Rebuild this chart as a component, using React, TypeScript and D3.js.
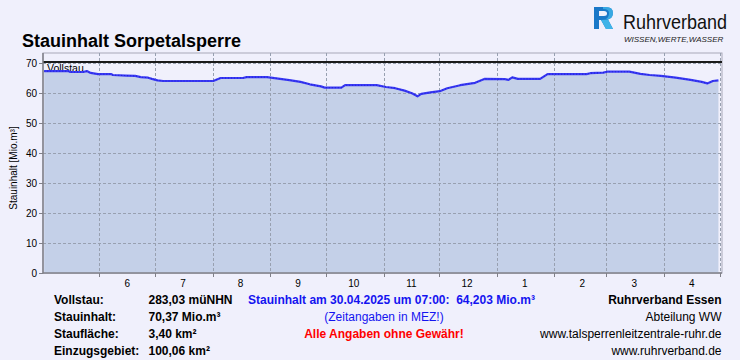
import React from "react";
import * as d3 from "d3";

const dates: string[] = [
  "2024-05-02","2024-05-15","2024-05-16","2024-05-23","2024-05-25","2024-05-27","2024-05-31",
  "2024-06-07","2024-06-08","2024-06-15","2024-06-20","2024-06-23","2024-06-27","2024-06-29",
  "2024-07-02","2024-07-05","2024-08-01","2024-08-05","2024-08-17","2024-08-19","2024-08-30",
  "2024-09-05","2024-09-11","2024-09-17","2024-09-22","2024-09-28","2024-09-30","2024-10-09",
  "2024-10-11","2024-10-28","2024-11-02","2024-11-07","2024-11-12","2024-11-16","2024-11-19",
  "2024-11-21","2024-11-26","2024-12-01","2024-12-05","2024-12-12","2024-12-20","2024-12-25",
  "2025-01-05","2025-01-07","2025-01-09","2025-01-12","2025-01-24","2025-01-28","2025-02-18",
  "2025-02-20","2025-02-27","2025-03-01","2025-03-13","2025-03-19","2025-03-24","2025-03-30",
  "2025-04-07","2025-04-15","2025-04-21","2025-04-24","2025-04-27","2025-04-30",
];
const values: number[] = [
  67.3,67.3,67.0,67.0,67.3,66.7,66.3,
  66.3,66.0,65.8,65.7,65.3,65.1,64.7,
  64.2,64.0,64.0,65.0,65.0,65.3,65.3,
  64.8,64.3,63.7,62.9,62.2,61.8,61.8,
  62.6,62.6,62.0,61.6,60.8,59.9,58.9,
  59.7,60.2,60.6,61.6,62.6,63.4,64.7,
  64.6,64.4,65.2,64.7,64.7,66.3,66.3,
  66.6,66.8,67.1,67.1,66.4,66.0,65.7,
  65.1,64.4,63.7,63.2,64.0,64.2,
];
const vollstau = 70.37;
const yTicks: number[] = [0, 10, 20, 30, 40, 50, 60, 70];

const leftLabels = ["Vollstau:", "Stauinhalt:", "Staufläche:", "Einzugsgebiet:"];
const leftValues = ["283,03 müNHN", "70,37 Mio.m³", "3,40 km²", "100,06 km²"];
const rightLines = ["Ruhrverband Essen", "Abteilung WW", "www.talsperrenleitzentrale-ruhr.de", "www.ruhrverband.de"];

const W = 740, H = 360;
const PL = 43, PR = 722, PT = 53, PB = 273;
const FONT = "'Liberation Sans', Arial, sans-serif";

export default function App() {
  React.useEffect(() => { document.body.style.margin = "0"; }, []);
  const parse = (s: string) => {
    const [y, m, d] = s.split("-").map(Number);
    return new Date(y, m - 1, d, 7);
  };
  const data = dates.map((d, i) => ({ date: parse(d), v: values[i] }));
  const x = d3.scaleTime().domain([new Date(2024, 4, 1, 16), new Date(2025, 4, 2, 5)]).range([PL, PR]);
  const y = d3.scaleLinear().domain([0, 70]).range([PB, 63]);
  const months = d3.timeMonth.range(new Date(2024, 5, 1), new Date(2025, 4, 2));
  const labelMonths = months.filter((m) => m < new Date(2025, 4, 1));
  const area = d3.area<any>().x((d) => x(d.date)).y0(PB).y1((d) => y(d.v));
  const line = d3.line<any>().x((d) => x(d.date)).y((d) => y(d.v));
  const fmtM = d3.timeFormat("%-m");
  const rowY = [304, 321, 338, 355];

  return (
    <svg width={W} height={H} style={{ position: "absolute", left: 0, top: 0, display: "block" }} fontFamily={FONT}>
      <rect x={0} y={0} width={W} height={H} fill="#f0f0fc" />
      {/* logo */}
      <g>
        <path d="M594,7 L606,7 Q613,7 613,13 Q613,18 608,19.5 L613,29 L606,29 L601,20 L599,20 L599,29 L594,29 Z" fill="#1a78c8" />
        <path d="M599,11 L604,11 Q607,11 607,13.5 Q607,16 604,16 L599,16 Z" fill="#f0f0fc" />
        <path d="M601,20 L606,29 L613,29 L608,19.5 Z" fill="#3fb4e8" />
        <path d="M603,7 L606,7 Q613,7 613,13 Q613,18 608,19.5 L606,19 Q609,17 609,13 Q609,9 603,9 Z" fill="#3fb4e8" opacity={0.8} />
      </g>
      <text transform="translate(623,29) scale(1,1.15)" fontSize={18} fill="#111">Ruhrverband</text>
      <text x={624} y={41.5} fontSize={8} fontStyle="italic" fill="#222">WISSEN,WERTE,WASSER</text>
      {/* title */}
      <text x={22} y={46.5} fontSize={18} fontWeight="bold" fill="#000">Stauinhalt Sorpetalsperre</text>
      {/* plot background */}
      <rect x={PL} y={PT} width={PR - PL} height={PB - PT} fill="#f0f0fc" stroke="#a8a8b8" strokeWidth={1} />
      <path d={area(data) || ""} fill="#c4d0e8" />
      {/* grid */}
      {yTicks.filter((t) => t > 0).map((t) => (
        <line key={"gy" + t} x1={PL} x2={PR} y1={Math.round(y(t)) + 0.5} y2={Math.round(y(t)) + 0.5} stroke="#98a0b0" strokeDasharray="3,2" strokeWidth={1} />
      ))}
      {months.map((m, i) => (
        <line key={"gx" + i} x1={Math.round(x(m)) + 0.5} x2={Math.round(x(m)) + 0.5} y1={PT} y2={PB} stroke="#98a0b0" strokeDasharray="3,2" strokeWidth={1} />
      ))}
      {/* vollstau line */}
      <line x1={PL} x2={PR} y1={y(vollstau)} y2={y(vollstau)} stroke="#1a1a1a" strokeWidth={2} />
      <text x={47} y={72.3} fontSize={10.5} fill="#000">Vollstau</text>
      {/* data line */}
      <path d={line(data) || ""} fill="none" stroke="#3a3af6" strokeWidth={2.2} strokeLinejoin="round" />
      <path d={line(data) || ""} fill="none" stroke="#1010b0" strokeWidth={1.1} strokeDasharray="1,2" opacity={0.55} />
      {/* axes */}
      <line x1={PL} x2={PL} y1={PT} y2={PB + 0.5} stroke="#808088" strokeWidth={1.5} />
      <line x1={PL} x2={PR} y1={PB} y2={PB} stroke="#808088" strokeWidth={1.5} />
      {yTicks.map((t) => (
        <g key={"yt" + t}>
          <line x1={PL - 4} x2={PL} y1={Math.round(y(t)) + 0.5} y2={Math.round(y(t)) + 0.5} stroke="#808088" />
          <text x={37} y={y(t) + 3.5} fontSize={10} textAnchor="end" fill="#000">{t}</text>
        </g>
      ))}
      {months.map((m, i) => (
        <line key={"xt" + i} x1={Math.round(x(m)) + 0.5} x2={Math.round(x(m)) + 0.5} y1={PB} y2={PB + 4} stroke="#808088" />
      ))}
      {labelMonths.map((m, i) => (
        <text key={"xl" + i} x={x(d3.timeDay.offset(m, 15))} y={287} fontSize={10} textAnchor="middle" fill="#000">{fmtM(m)}</text>
      ))}
      <text transform="translate(16.5,168) rotate(-90)" fontSize={10} textAnchor="middle" fill="#000">Stauinhalt [Mio.m³]</text>
      {/* footer */}
      {leftLabels.map((s, i) => (
        <text key={"ll" + i} x={54} y={rowY[i]} fontSize={12} fontWeight="bold" fill="#000">{s}</text>
      ))}
      {leftValues.map((s, i) => (
        <text key={"lv" + i} x={148.5} y={rowY[i]} fontSize={12} fontWeight="bold" fill="#000">{s}</text>
      ))}
      <text x={391.5} y={rowY[0]} fontSize={12} fontWeight="bold" fill="#1414f0" textAnchor="middle" style={{ whiteSpace: "pre" }}>{"Stauinhalt am 30.04.2025 um 07:00:  64,203 Mio.m³"}</text>
      <text x={384} y={rowY[1]} fontSize={12} fill="#1414f0" textAnchor="middle">(Zeitangaben in MEZ!)</text>
      <text x={384} y={rowY[2]} fontSize={12} fontWeight="bold" fill="#ff0000" textAnchor="middle">Alle Angaben ohne Gewähr!</text>
      {rightLines.map((s, i) => (
        <text key={"rl" + i} x={721.5} y={rowY[i]} fontSize={12} fontWeight={i === 0 ? "bold" : "normal"} textAnchor="end" fill="#000">{s}</text>
      ))}
    </svg>
  );
}
